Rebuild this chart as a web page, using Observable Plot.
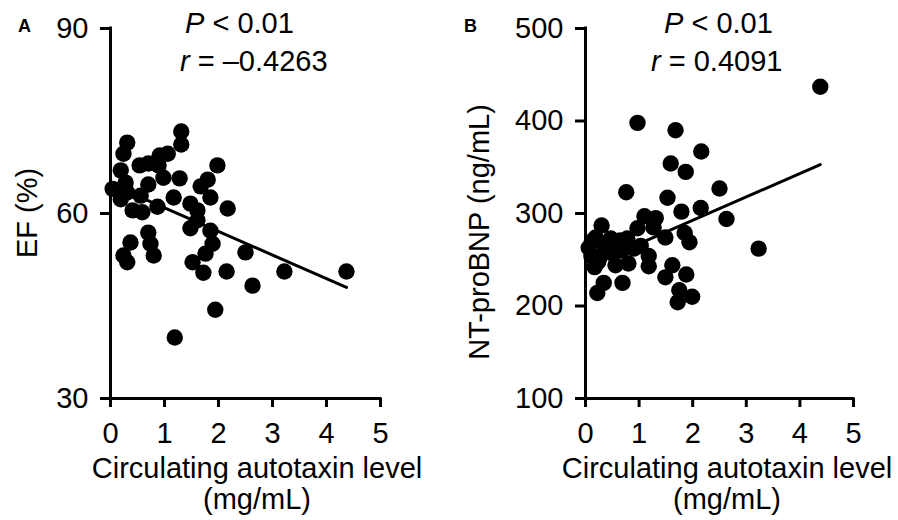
<!DOCTYPE html>
<html><head><meta charset="utf-8">
<script src="https://cdn.jsdelivr.net/npm/d3@7"></script>
<script src="https://cdn.jsdelivr.net/npm/@observablehq/plot@0.6"></script>
<style>
body{margin:0;background:#fff;}
#wrap{display:flex;width:898px;height:520px;overflow:hidden;}
#wrap svg{flex:none;}
</style></head><body><div id="wrap"></div>
<script>
// Panel A: circulating autotaxin (mg/mL) vs EF (%)
const atxA = [1.31,1.31,0.31,0.24,1.06,0.91,0.70,0.54,0.19,0.89,1.98,0.98,1.28,1.80,1.67,0.70,0.28,0.13,0.31,1.85,0.56,2.17,1.17,0.87,1.48,1.61,0.41,0.59,0.19,1.48,1.61,1.85,1.89,1.76,0.70,0.74,0.80,0.37,0.24,0.31,1.52,1.72,2.50,2.15,2.63,3.22,4.37,1.94,1.19,0.04];
const efA  = [73.3,71.2,71.5,69.7,69.7,69.4,68.1,67.8,67.0,67.8,67.8,65.8,65.7,65.5,64.4,64.7,65.0,63.7,63.4,62.6,62.9,60.8,62.6,61.1,61.6,60.5,60.5,60.2,62.3,57.6,58.9,57.2,55.1,53.5,56.9,55.1,53.2,55.3,53.2,52.1,52.1,50.4,53.7,50.6,48.3,50.6,50.6,44.4,39.9,64.0];
// Panel B: circulating autotaxin (mg/mL) vs NT-proBNP (ng/mL)
const atxB = [4.38,0.97,1.68,2.16,1.59,1.87,2.50,0.76,1.53,2.15,1.79,2.63,3.23,1.10,1.31,0.30,0.97,1.27,1.85,1.49,1.94,0.19,0.47,0.78,1.18,0.80,1.18,1.62,1.49,1.88,1.75,1.99,1.72,0.34,0.22,0.69,0.06,0.11,0.37,0.49,0.67,0.56,0.24,0.17,1.03,0.28,0.65,0.90,0.45,0.12];
const ntB  = [437,398,390,367,354,345,327,323,317,306,302,294,262,297,295,287,284,285,279,274,269,274,273,273,254,246,243,244,231,234,217,210,204,225,214,225,263,254,263,257,260,244,248,242,265,254,271,262,268,270];
// Regression fits
const fitA = {intercept: 64.75, slope: -3.83};
const fitB = {intercept: 242, slope: 25.3};
const xTicks = [0,1,2,3,4,5];
const yTicksA = [30,60,90];
const yTicksB = [100,200,300,400,500];
const FONT = '"Liberation Sans", Arial, Helvetica, sans-serif';

function panel(cfg){
  const data = cfg.xs.map((x,i)=>({x, y: cfg.ys[i]}));
  const ext = d3.extent(cfg.xs);
  const fit = ext.map(x=>({x, y: cfg.fit.intercept + cfg.fit.slope*x}));
  const svg = Plot.plot({
    width: 449, height: 520,
    marginLeft: cfg.marginLeft, marginRight: cfg.marginRight,
    marginTop: 28, marginBottom: 122,
    style: {fontFamily: FONT, fontSize: "29px", color: "black", background: "white"},
    x: {domain: [0,5]},
    y: {domain: cfg.yDomain},
    marks: [
      Plot.line(fit, {x:"x", y:"y", stroke:"black", strokeWidth:3}),
      Plot.dot(data, {x:"x", y:"y", r:8.2, fill:"black", stroke:"none"}),
      Plot.ruleY([cfg.yDomain[0]], {stroke:"black", strokeWidth:3, strokeLinecap:"square"}),
      Plot.ruleX([0], {stroke:"black", strokeWidth:3, strokeLinecap:"square"}),
      Plot.axisX(xTicks, {tickSize:9, tickPadding:15, strokeWidth:3, fontSize:29, label:null, tickFormat:d=>String(d)}),
      Plot.axisY(cfg.yTicks, {tickSize:10, tickPadding:12, strokeWidth:3, fontSize:29, label:null, tickFormat:d=>String(d)})
    ]
  });
  const s = d3.select(svg);
  s.append("text").attr("x", cfg.letterX).attr("y", 32).attr("font-family", FONT)
    .attr("text-anchor","start").attr("font-weight", "bold").attr("font-size", 18).text(cfg.letter);
  // annotations
  const a1 = s.append("text").attr("x", cfg.pX).attr("y", 33).attr("text-anchor","start")
    .attr("font-family", FONT).attr("font-size", 29);
  a1.append("tspan").attr("font-style","italic").text("P");
  a1.append("tspan").text(" < 0.01");
  const a2 = s.append("text").attr("x", cfg.rX).attr("y", 71).attr("text-anchor","start")
    .attr("font-family", FONT).attr("font-size", 29);
  a2.append("tspan").attr("font-style","italic").text("r");
  a2.append("tspan").text(cfg.rText);
  // x title (two lines)
  const xt = s.append("text").attr("text-anchor","middle").attr("font-family", FONT).attr("font-size", 29);
  xt.append("tspan").attr("x", cfg.xTitleX).attr("y", 478).text("Circulating autotaxin level");
  xt.append("tspan").attr("x", cfg.xTitleX).attr("y", 509).text("(mg/mL)");
  // y title
  s.append("text").attr("text-anchor","middle").attr("font-family", FONT).attr("font-size", 29)
    .attr("transform", `translate(${cfg.yTitleX},${cfg.yTitleY}) rotate(-90)`).text(cfg.yLabel);
  return svg;
}

const wrap = document.getElementById("wrap");
wrap.appendChild(panel({
  xs: atxA, ys: efA, fit: fitA, yDomain: [30,90], yTicks: yTicksA,
  marginLeft: 110, marginRight: 69, letter: "A", letterX: 18,
  pX: 185, rX: 180, rText: " = \u20130.4263",
  xTitleX: 257, yTitleX: 37, yTitleY: 213, yLabel: "EF (%)"
}));
wrap.appendChild(panel({
  xs: atxB, ys: ntB, fit: fitB, yDomain: [100,500], yTicks: yTicksB,
  marginLeft: 136, marginRight: 45, letter: "B", letterX: 15,
  pX: 215, rX: 202, rText: " = 0.4091",
  xTitleX: 278, yTitleX: 40, yTitleY: 232, yLabel: "NT-proBNP (ng/mL)"
}));
</script></body></html>
